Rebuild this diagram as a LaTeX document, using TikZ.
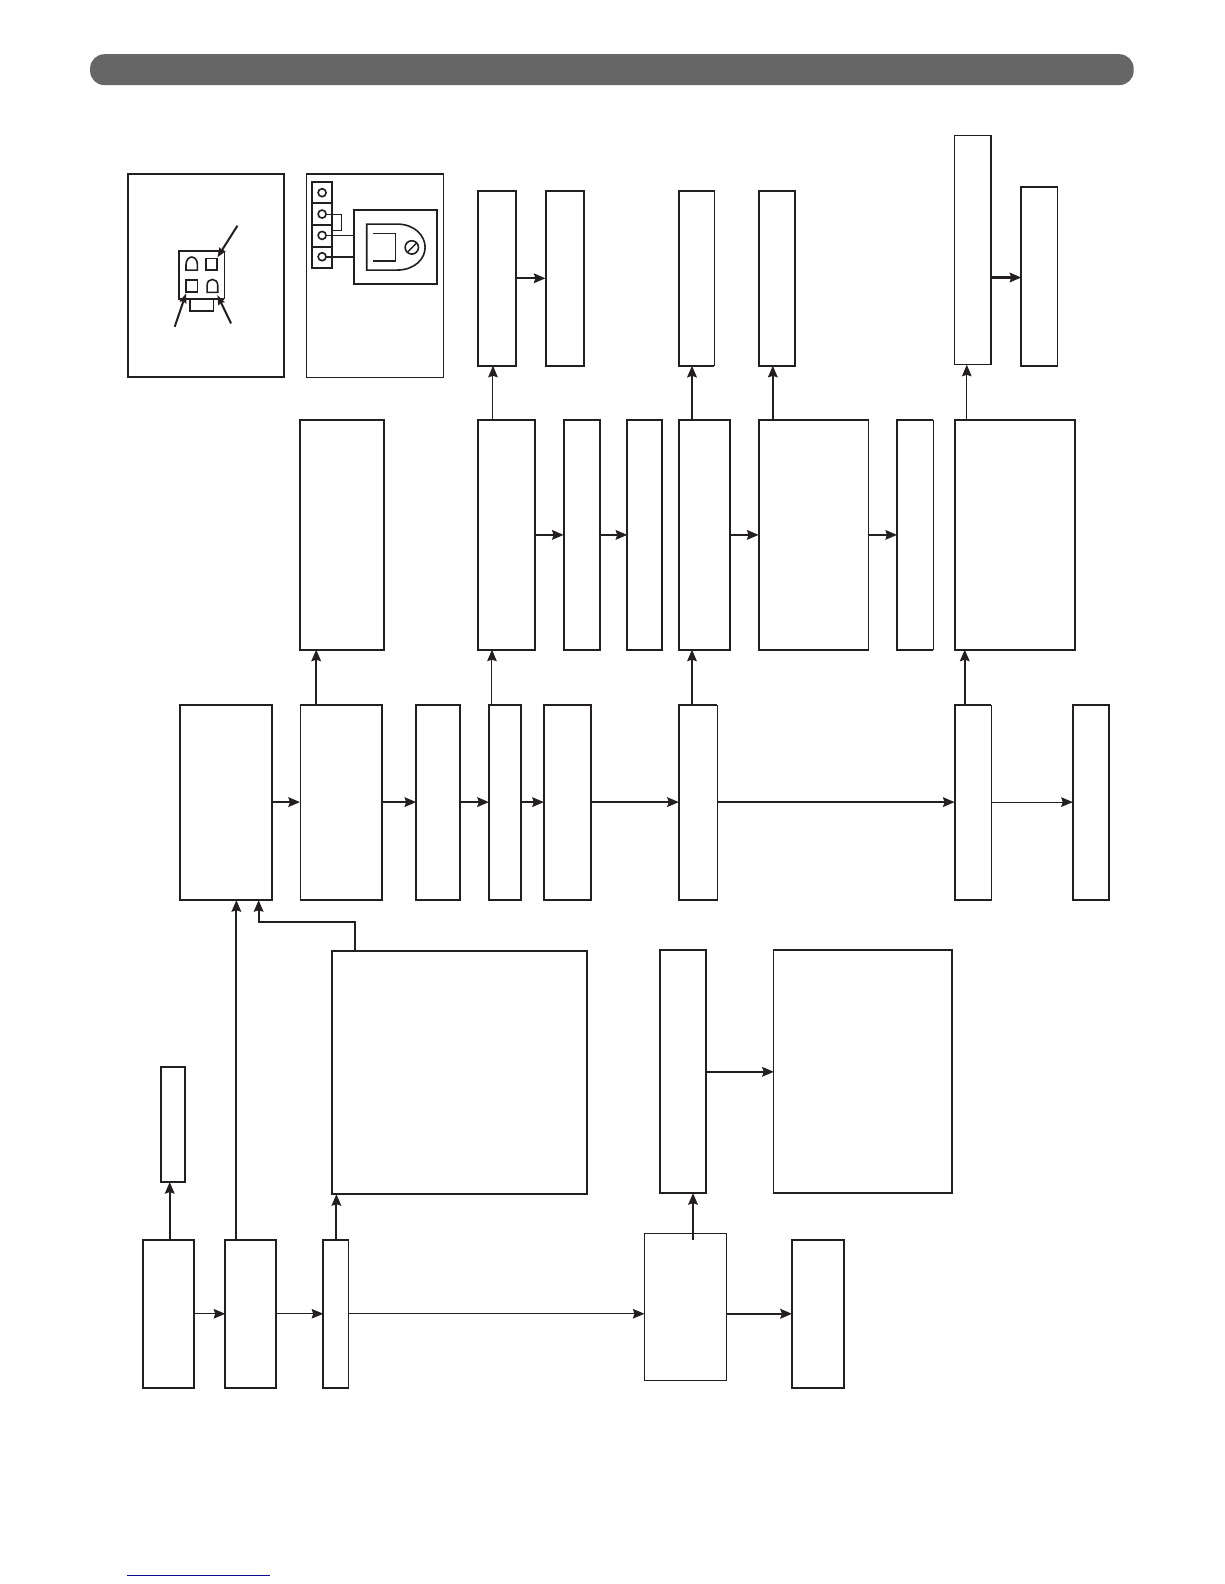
\documentclass[tikz,border=0pt]{standalone}
\usetikzlibrary{arrows.meta}
\definecolor{ink}{HTML}{231F20}
\definecolor{bar}{HTML}{666666}
\definecolor{rule}{HTML}{0A0A8C}
\tikzset{
  thickw/.style={line width=2pt,draw=ink},
  thinw/.style={line width=1pt,draw=ink},
  box/.style={rectangle,thickw,inner sep=0pt,outer sep=0pt,fill=none},
  boxthin/.style={rectangle,thinw,inner sep=0pt,outer sep=0pt,fill=none},
  tip/.style={-{Stealth[length=11.5pt,width=9.5pt,inset=1.5pt]}},
  arr/.style={thickw,tip},
  arrthin/.style={thinw,tip},
  smalltip/.style={thickw,-{Stealth[length=9.5pt,width=7pt,inset=1.2pt]}},
}
\newcommand{\mybox}[6][box]{\node[#1,anchor=north west,minimum width={(#5-#3)*1pt},minimum height={(#6-#4)*1pt}] (#2) at (#3,#4) {};}
\begin{document}
\begin{tikzpicture}[x=1pt,y=-1pt]
\useasboundingbox (0,0) rectangle (1211.64,1568);
% header bar and rule
\node[rectangle,fill=bar,rounded corners=14pt,inner sep=0pt,anchor=north west,minimum width=1033pt,minimum height=30.5pt] (header) at (89,53.5) {};
\coordinate (ruleA) at (126,1559.5);
\coordinate (ruleB) at (267,1559.5);
\draw[draw=rule,line width=1.2pt] (ruleA) -- (ruleB);
% top row
\mybox{a1}{473}{189}{511}{362}
\mybox{a2}{540}{189}{578}{362}
\mybox[boxthin]{a3}{672}{189}{707}{362}
\mybox{a4}{751}{189}{787}{362}
\mybox[boxthin]{a5}{945}{134}{981}{361}
\mybox[boxthin]{a6}{1011}{185}{1047}{362}
\draw[thickw] (a3.north east) -- (a3.north west) -- (a3.south west) -- (a3.south east);
\draw[thickw] (a5.north east) -- (a5.south east);
\draw[thickw] (a6.north east) -- (a6.north west) -- (a6.south west) -- (a6.south east);
% second row
\mybox{b1}{297}{416}{380}{643}
\mybox{b2}{473}{416}{530}{643}
\mybox{b3}{558}{416}{594}{643}
\mybox{b4}{621}{416}{655}{643}
\mybox{b5}{672}{416}{723}{643}
\mybox[boxthin]{b6}{751}{416}{860}{643}
\mybox[boxthin]{b7}{888}{416}{924}{643}
\mybox{b8}{945}{416}{1064}{643}
\draw[thickw] (b6.north east) -- (b6.north west) -- (b6.south west) -- (b6.south east);
\draw[thickw] (b7.north east) -- (b7.north west) -- (b7.south west) -- (b7.south east);
% third row
\mybox{c1}{178}{698}{269}{891}
\mybox[boxthin]{c2}{297}{698}{378}{891}
\mybox{c3}{412}{698}{455}{891}
\mybox{c4}{484}{698}{516}{891}
\mybox{c5}{538.4}{698}{585}{891}
\mybox[boxthin]{c6}{672}{698}{710}{891}
\mybox[boxthin]{c7}{945}{698}{981}{891}
\mybox{c8}{1062}{698}{1098}{891}
\draw[thickw] (c2.north west) -- (c2.north east) -- (c2.south east) -- (c2.south west);
\draw[thickw] (c6.north east) -- (c6.north west) -- (c6.south west) -- (c6.south east);
\draw[thickw] (c7.north east) -- (c7.north west) -- (c7.south west) -- (c7.south east);
% fourth row
\mybox{d1}{329}{941}{581}{1182}
\mybox{d2}{653}{940}{699}{1181}
\mybox[boxthin]{d3}{766}{940}{942}{1181}
\draw[thickw] (d3.north west) -- (d3.north east) -- (d3.south east) -- (d3.south west);
\mybox{e1}{159}{1056}{183}{1170}
% bottom row
\mybox{f1}{142}{1227}{192}{1374}
\mybox{f2}{223}{1227}{273}{1374}
\mybox[boxthin]{f3}{320}{1227}{345}{1374}
\mybox[boxthin]{f4}{638}{1221}{719}{1367}
\mybox{f5}{784}{1227}{835}{1374}
\draw[thickw] (f3.north east) -- (f3.north west) -- (f3.south west) -- (f3.south east);
% horizontal connectors
\coordinate (a6in) at ([yshift=-1.2pt]a6.west);
\draw[arr] (a1.east) -- (a2.west);
\draw[arr] (a5.east |- a6in) -- (a6in);
\draw[arr] (b2.east) -- (b3.west);
\draw[arr] (b3.east) -- (b4.west);
\draw[arr] (b5.east) -- (b6.west);
\draw[arr] (b6.east) -- (b7.west);
\draw[arr] ([yshift=.5pt]c1.east) -- ([yshift=.5pt]c2.west);
\draw[arr] ([yshift=.5pt]c2.east) -- ([yshift=.5pt]c3.west);
\draw[arr] ([yshift=.5pt]c3.east) -- ([yshift=.5pt]c4.west);
\draw[arr] ([yshift=.5pt]c4.east) -- ([yshift=.5pt]c5.west);
\draw[arr] ([yshift=.5pt]c5.east) -- ([yshift=.5pt]c6.west);
\draw[arr] ([yshift=.5pt]c6.east) -- ([yshift=.5pt]c7.west);
\draw[arrthin] ([yshift=.5pt]c7.east) -- ([yshift=.5pt]c8.west);
\draw[arr] ([yshift=-.5pt]d2.east) -- ([yshift=-.5pt]d3.west);
\draw[arrthin] (f1.east) -- (f2.west);
\draw[arrthin] (f2.east) -- (f3.west);
\draw[arrthin] (f3.east) -- (f3.east -| f4.west);
\draw[arr,line width=2.4pt] (f5.west -| f4.east) -- (f5.west);
% vertical connectors
\draw[arrthin] ([xshift=15pt]b2.north west) -- ([xshift=15pt]a1.south west);
\draw[arr] ([xshift=13pt]b5.north west) -- ([xshift=13pt]a3.south west);
\draw[arr] ([xshift=14pt]b6.north west) -- ([xshift=14pt]a4.south west);
\draw[arrthin] ([xshift=12pt]b8.north west) -- ([xshift=12pt]a5.south west);
\draw[arr] ([xshift=16pt]c2.north west) -- ([xshift=16pt]b1.south west);
\draw[arrthin] ([xshift=3pt]c4.north west) -- ([xshift=14pt]b2.south west);
\draw[arr] ([xshift=13pt]c6.north west) -- ([xshift=13pt]b5.south west);
\draw[arr] ([xshift=10pt]c7.north west) -- ([xshift=10pt]b8.south west);
\draw[arr] ([xshift=11pt]f2.north west) -- ([xshift=56pt]c1.south west);
\coordinate (elbowA) at (351,913);
\coordinate (elbowB) at (256,913);
\draw[arr] ([xshift=22pt]d1.north west) -- (elbowA) -- (elbowB) -- ([xshift=78pt]c1.south west);
\draw[arr] ([xshift=26pt]f1.north west) -- ([xshift=9pt]e1.south west);
\draw[arr] ([xshift=13pt]f3.north west) -- ([xshift=4pt]d1.south west);
\draw[arr] ([xshift=48pt,yshift=-6pt]f4.north west) -- ([xshift=33pt]d2.south west);
% inset drawings (coordinates in the space of a 3x crop)
\begin{scope}[shift={(108.92,158.43)},x=0.33007pt,y=-0.33007pt]
  % left inset
  \draw[thickw] (53,42) rectangle (523,652);
  \draw[thinw] (343,272) -- (343,418);
  \draw[thickw] (343,272) -- (207,272) -- (207,418) -- (343,418);
  \draw[line width=1.6pt,draw=ink] (228,330) -- (228,313) .. controls (228,300) and (236,291) .. (245,291) .. controls (254,291) and (262,300) .. (262,313) -- (262,330) -- cycle;
  \draw[line width=1.6pt,draw=ink] (288,295) rectangle (320,330);
  \draw[line width=1.6pt,draw=ink] (228,360) rectangle (262,395);
  \draw[line width=1.6pt,draw=ink] (291,397) -- (291,376) .. controls (291,365) and (298,358) .. (307,358) .. controls (316,358) and (323,365) .. (323,376) -- (323,397) -- cycle;
  \draw[line width=1.6pt,draw=ink] (240,418) -- (240,453) -- (310,453) -- (310,418);
  \coordinate (pA) at (382,197);
  \coordinate (pAe) at (322,292);
  \coordinate (pB) at (194,500);
  \coordinate (pBe) at (228,400);
  \coordinate (pC) at (363,490);
  \coordinate (pCe) at (322,405);
  \draw[smalltip] (pA) -- (pAe);
  \draw[smalltip] (pB) -- (pBe);
  \draw[smalltip] (pC) -- (pCe);
  % right inset
  \draw[thinw,line width=1.1pt] (590,42) rectangle (1000,652);
  \draw[thickw] (606,66) rectangle (666,324);
  \draw[thickw] (606,130) -- (666,130);
  \draw[thickw] (606,194) -- (666,194);
  \draw[thickw] (606,260) -- (666,260);
  \foreach \cy in {98,162,226,290} \draw[line width=1.6pt,draw=ink] (636,\cy) circle[radius=12];
  \draw[line width=1.1pt,draw=ink] (648,162) -- (693,162) -- (693,212) -- (666,212);
  \draw[thinw] (648,226) -- (732,226);
  \draw[thickw] (648,290) -- (732,290);
  \draw[thickw] (732,150) rectangle (981,372);
  \draw[line width=1.6pt,draw=ink] (860,192) -- (770,192) -- (770,330) -- (860,330) .. controls (915,330) and (945,295) .. (945,262) .. controls (945,228) and (915,192) .. (860,192);
  \draw[thinw] (790,220) -- (857,220) -- (857,302);
  \draw[thickw] (857,302) -- (790,302);
  \draw[line width=1.6pt,draw=ink] (905,262) circle[radius=20];
  \draw[line width=1.4pt,draw=ink] (893,275) -- (918,250);
\end{scope}
\end{tikzpicture}
\end{document}
